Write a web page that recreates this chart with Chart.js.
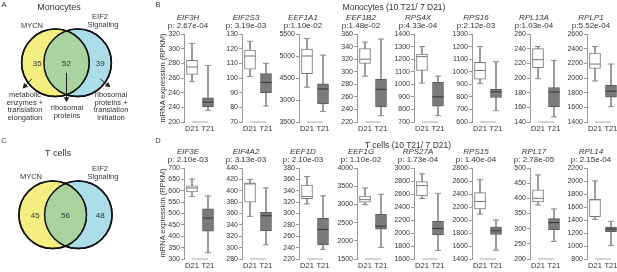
<!DOCTYPE html>
<html><head><meta charset="utf-8">
<script src="https://cdn.jsdelivr.net/npm/chart.js@4.4.0/dist/chart.umd.min.js"></script>
<style>
html,body{margin:0;padding:0;background:#fff;}
body{width:617px;height:272px;position:relative;overflow:hidden;font-family:"Liberation Sans",Arial,sans-serif;color:#333;}
.t,.m,.r{filter:grayscale(100%);}
.t{position:absolute;white-space:nowrap;line-height:1;transform:translate(-50%,-50%);}
.m{position:absolute;white-space:nowrap;text-align:center;transform:translate(-50%,0);font-size:7.5px;line-height:7.7px;}
.r{position:absolute;white-space:nowrap;line-height:1;transform:translate(-50%,-50%) rotate(-90deg);font-size:7.5px;}
canvas{position:absolute;}
</style></head><body>
<div class="t" style="left:4px;top:5px;font-size:7.5px;">A</div>
<div class="t" style="left:59px;top:7px;font-size:9px;">Monocytes</div>
<div class="t" style="left:32px;top:26px;font-size:7.5px;">MYCN</div>
<div class="t" style="left:100px;top:17px;font-size:7.5px;">EIF2</div>
<div class="t" style="left:103px;top:25px;font-size:7.5px;">Signaling</div>
<div class="m" style="left:25px;top:91px;">metabolic<br>enzymes +<br>translation<br>elongation</div>
<div class="m" style="left:67px;top:104px;">ribosomal<br>proteins</div>
<div class="m" style="left:111px;top:91px;">ribosomal<br>proteins +<br>translation<br>initiation</div>
<div class="t" style="left:4px;top:141px;font-size:7.5px;">C</div>
<div class="t" style="left:58px;top:153px;font-size:9px;">T cells</div>
<div class="t" style="left:31px;top:177px;font-size:7.5px;">MYCN</div>
<div class="t" style="left:100px;top:169px;font-size:7.5px;">EIF2</div>
<div class="t" style="left:103px;top:177px;font-size:7.5px;">Signaling</div>
<div class="t" style="left:158px;top:5px;font-size:7.5px;">B</div>
<div class="t" style="left:394px;top:7px;font-size:8.5px;">Monocytes (10 T21/ 7 D21)</div>
<div class="r" style="left:163px;top:78px;">mRNA expression (RPKM)</div>
<div class="t" style="left:158px;top:141px;font-size:7.5px;">D</div>
<div class="t" style="left:408px;top:145px;font-size:8.5px;">T cells (10 T21/ 7 D21)</div>
<div class="r" style="left:163px;top:213px;">mRNA expression (RPKM)</div>
<script>
// ---------- DATA ----------
const categories = ['D21', 'T21'];

// Venn diagrams
const vennSets = ['MYCN', 'EIF2 Signaling'];
const monoCounts = [35, 52, 39];
const tCounts = [45, 56, 48];

// Monocytes box plots: [min, q1, median, q3, max]
const monoGenes = ['EIF3H', 'EIF2S3', 'EEF1A1', 'EEF1B2', 'RPS4X', 'RPS16', 'RPL13A', 'RPLP1'];
const monoP = ['p: 2.67e-04', 'p: 3.19e-03', 'p:1.10e-02', 'p:1.48e-02', 'p:4.33e-04', 'p:2.12e-03', 'p:1.03e-04', 'p:5.52e-04'];
const monoD21 = [
  [255, 265, 275, 284, 307],
  [101, 106, 115, 119, 125],
  [4290, 4600, 5000, 5160, 5400],
  [293, 313, 320, 337, 347],
  [1010, 1110, 1220, 1240, 1300],
  [905, 940, 1010, 1075, 1200],
  [199, 214, 225, 240, 243],
  [1960, 2130, 2190, 2340, 2430]
];
const monoT21 = [
  [216, 221, 227, 233, 277],
  [81, 90, 97, 103, 110],
  [3740, 3910, 4250, 4370, 5020],
  [230, 244, 272, 288, 352],
  [750, 825, 900, 1015, 1065],
  [690, 795, 840, 860, 1080],
  [147, 161, 181, 187, 224],
  [1610, 1740, 1820, 1900, 2190]
];
const monoYMin = [200, 70, 3500, 220, 700, 600, 140, 1400];
const monoYMax = [320, 130, 5500, 360, 1400, 1300, 260, 2600];
const monoYStep = [20, 10, 500, 20, 100, 100, 20, 200];
const monoTickLabels = [
  ['200', '240', '240', '260', '280', '300', '320'],
  ['70', '80', '90', '100', '110', '120', '130'],
  ['3500', '3000', '4500', '5000', '5500'],
  ['220', '240', '260', '280', '300', '320', '340', '360'],
  ['700', '800', '900', '1000', '1100', '1200', '1300', '1400'],
  ['600', '700', '800', '900', '1000', '1100', '1200', '1300'],
  ['140', '160', '180', '200', '220', '240', '260'],
  ['1400', '1600', '1800', '2000', '2200', '2400', '2600']
];

// T cells box plots: [min, q1, median, q3, max]
const tGenes = ['EIF3E', 'EIF4A2', 'EEF1D', 'EEF1G', 'RPS27A', 'RPS15', 'RPL17', 'RPL14'];
const tP = ['p: 2.10e-03', 'p: 3.13e-03', 'p: 2.10e-03', 'p: 1.10e-02', 'p: 1.73e-04', 'p: 1.40e-04', 'p: 2.78e-05', 'p: 2.15e-04'];
const tD21 = [
  [575, 595, 612, 622, 652],
  [355, 380, 412, 414, 420],
  [317, 326, 330, 350, 365],
  [2990, 3060, 3130, 3230, 3450],
  [2530, 2570, 2730, 2790, 2910],
  [2090, 2170, 2285, 2420, 2620],
  [378, 388, 400, 428, 477],
  [1410, 1450, 1710, 1720, 2000]
];
const tT21 = [
  [328, 422, 480, 520, 577],
  [305, 330, 356, 362, 405],
  [237, 245, 272, 292, 331],
  [1820, 2320, 2400, 2730, 3280],
  [1730, 1970, 2070, 2180, 2610],
  [1535, 1780, 1835, 1890, 2000],
  [258, 297, 320, 333, 365],
  [1010, 1220, 1260, 1290, 1380]
];
const tYMin = [300, 280, 220, 1500, 1600, 1400, 200, 800];
const tYMax = [700, 440, 380, 4000, 3000, 2800, 500, 2200];
const tYStep = [50, 20, 20, 500, 200, 200, 50, 200];
const tTickLabels = [
  ['300', '350', '400', '450', '500', '550', '600', '650', '700'],
  ['280', '300', '320', '340', '360', '380', '400', '420', '440'],
  ['220', '240', '260', '280', '300', '320', '340', '360', '380'],
  ['1500', '2000', '2500', '3000', '3500', '4000'],
  ['1600', '1800', '2000', '2200', '2400', '2600', '2800', '3000'],
  ['1400', '1600', '1800', '2000', '2200', '2400', '2600', '2800'],
  ['200', '250', '300', '350', '400', '450', '500'],
  ['800', '1000', '1200', '1400', '1600', '1800', '2000', '2200']
];

// ---------- RENDERING ----------
const FONT = '"Liberation Sans", Arial, sans-serif';
const TXT = '#333';

function addCanvas(left, top, w, h) {
  const cv = document.createElement('canvas');
  cv.width = w; cv.height = h;
  cv.style.left = left + 'px'; cv.style.top = top + 'px';
  cv.style.width = w + 'px'; cv.style.height = h + 'px';
  document.body.appendChild(cv);
  return cv;
}

function boxChart(left, top, h, gene, pText, d21, t21, yMin, yMax, yStep, labels) {
  const cv = addCanvas(left, top, 80, h);
  const stats = [d21, t21];
  const capStyle = {type: 'line', showLine: false, pointStyle: 'line', pointRadius: 3, pointBorderWidth: 1, pointBorderColor: '#8a8a8a', order: 2};
  new Chart(cv, {
    type: 'bar',
    data: {
      labels: categories,
      datasets: [
        {type: 'line', label: 'median', data: stats.map(s => s[2]), showLine: false, pointStyle: 'line', pointRadius: 5.5, pointBorderWidth: 1, pointBorderColor: ['#777', '#333'], order: 0},
        {label: 'box', data: stats.map(s => [s[1], s[3]]), backgroundColor: ['#ffffff', '#7b7b7b'], borderColor: ['#7a7a7a', '#5a5a5a'], borderWidth: 1, borderSkipped: false, barThickness: 11, grouped: false, order: 1},
        {label: 'whisker', data: stats.map(s => [s[0], s[4]]), backgroundColor: '#8a8a8a', borderWidth: 0, barThickness: 1, grouped: false, order: 2},
        Object.assign({label: 'low', data: stats.map(s => s[0])}, capStyle),
        Object.assign({label: 'high', data: stats.map(s => s[4])}, capStyle),
        {type: 'line', label: 'bracket', data: [yMin, yMin], borderColor: '#aaa', borderWidth: 1, pointRadius: 0, clip: false, order: 3}
      ]
    },
    options: {
      responsive: false, animation: false, devicePixelRatio: 1,
      layout: {padding: {left: 0, right: 24, top: 0, bottom: 0}},
      plugins: {
        legend: {display: false}, tooltip: {enabled: false},
        title: {display: true, text: gene, color: TXT, font: {family: FONT, size: 8, style: 'italic', weight: 'normal', lineHeight: 1}, padding: {top: 0, bottom: 0}},
        subtitle: {display: true, text: pText, color: TXT, font: {family: FONT, size: 8, lineHeight: 1}, padding: {top: 0, bottom: 4}}
      },
      scales: {
        x: {grid: {display: false, drawTicks: false}, border: {display: false},
            ticks: {color: TXT, font: {family: FONT, size: 7.5}, padding: 2, maxRotation: 0, autoSkip: false},
            afterFit(s) { s.height = 13; }},
        y: {min: yMin, max: yMax,
            border: {display: true, color: '#999'},
            grid: {drawOnChartArea: false, drawTicks: true, tickLength: 3, color: '#999'},
            ticks: {stepSize: yStep, color: TXT, font: {family: FONT, size: 7}, padding: 1, autoSkip: false,
                    callback: (v, i) => labels[i]},
            afterFit(s) { s.width = 24; }}
      }
    }
  });
}

const axisX = [184, 241.6, 299.2, 356.8, 414.4, 472, 529.6, 587.2];
for (let i = 0; i < 8; i++) {
  boxChart(axisX[i] - 24, 14, 121, monoGenes[i], monoP[i], monoD21[i], monoT21[i], monoYMin[i], monoYMax[i], monoYStep[i], monoTickLabels[i]);
  boxChart(axisX[i] - 24, 148, 124, tGenes[i], tP[i], tD21[i], tT21[i], tYMin[i], tYMax[i], tYStep[i], tTickLabels[i]);
}

// Venn diagrams
const YELLOW = '#f4ef80', BLUE = '#acdeea', GREEN = '#a9d49f';
function unitPx(chart) { return chart.scales.x.getPixelForValue(1) - chart.scales.x.getPixelForValue(0); }

const vennPlugin = {
  id: 'venn',
  afterDatasetsDraw(chart, args, opts) {
    const ctx = chart.ctx, sx = chart.scales.x, sy = chart.scales.y;
    const a = chart.getDatasetMeta(0).data[0], b = chart.getDatasetMeta(1).data[0];
    const r = unitPx(chart);
    ctx.save();
    ctx.beginPath(); ctx.arc(a.x, a.y, r, 0, Math.PI * 2); ctx.clip();
    ctx.beginPath(); ctx.arc(b.x, b.y, r, 0, Math.PI * 2); ctx.fillStyle = GREEN; ctx.fill();
    ctx.restore();
    ctx.save();
    ctx.strokeStyle = '#111'; ctx.lineWidth = 1.5;
    [a, b].forEach(p => { ctx.beginPath(); ctx.arc(p.x, p.y, r, 0, Math.PI * 2); ctx.stroke(); });
    ctx.fillStyle = '#333'; ctx.font = '8px ' + FONT; ctx.textAlign = 'center'; ctx.textBaseline = 'middle';
    opts.counts.forEach((c, i) => ctx.fillText(String(c), sx.getPixelForValue(opts.countX[i]), sy.getPixelForValue(-0.03)));
    ctx.strokeStyle = '#222'; ctx.fillStyle = '#222'; ctx.lineWidth = 1;
    (opts.arrows || []).forEach(([x0, y0, x1, y1]) => {
      const px0 = sx.getPixelForValue(x0), py0 = sy.getPixelForValue(y0);
      const px1 = sx.getPixelForValue(x1), py1 = sy.getPixelForValue(y1);
      const ang = Math.atan2(py1 - py0, px1 - px0);
      ctx.beginPath(); ctx.moveTo(px0, py0); ctx.lineTo(px1 - 3 * Math.cos(ang), py1 - 3 * Math.sin(ang)); ctx.stroke();
      ctx.beginPath();
      ctx.moveTo(px1, py1);
      ctx.lineTo(px1 - 5 * Math.cos(ang) + 2.8 * Math.sin(ang), py1 - 5 * Math.sin(ang) - 2.8 * Math.cos(ang));
      ctx.lineTo(px1 - 5 * Math.cos(ang) - 2.8 * Math.sin(ang), py1 - 5 * Math.sin(ang) + 2.8 * Math.cos(ang));
      ctx.closePath(); ctx.fill();
    });
    ctx.restore();
  }
};

function vennChart(left, top, centers, counts, countX, arrows) {
  const cv = addCanvas(left, top, 135, 111);
  new Chart(cv, {
    type: 'scatter',
    data: {
      datasets: [
        {label: vennSets[0], data: [{x: centers[0], y: 0}], backgroundColor: YELLOW, borderColor: '#111', borderWidth: 1.5, pointRadius: c => unitPx(c.chart)},
        {label: vennSets[1], data: [{x: centers[1], y: 0}], backgroundColor: BLUE, borderColor: '#111', borderWidth: 1.5, pointRadius: c => unitPx(c.chart)}
      ]
    },
    options: {
      responsive: false, animation: false, devicePixelRatio: 1,
      layout: {padding: 0},
      plugins: {legend: {display: false}, tooltip: {enabled: false}, venn: {counts, countX, arrows}},
      scales: {
        x: {display: false, min: -2, max: 2},
        y: {display: false, min: -1.7, max: 1.6}
      }
    },
    plugins: [vennPlugin]
  });
}
vennChart(-1, 9, [-0.33, 0.33], monoCounts, [-0.87, 0, 1.0], [[-1.03, -0.48, -1.3, -0.76], [0, -0.3, 0, -1.17], [1.0, -0.48, 1.3, -0.73]]);
vennChart(-2, 161, [-0.38, 0.38], tCounts, [-0.9, 0, 1.03], []);
</script>
</body></html>
